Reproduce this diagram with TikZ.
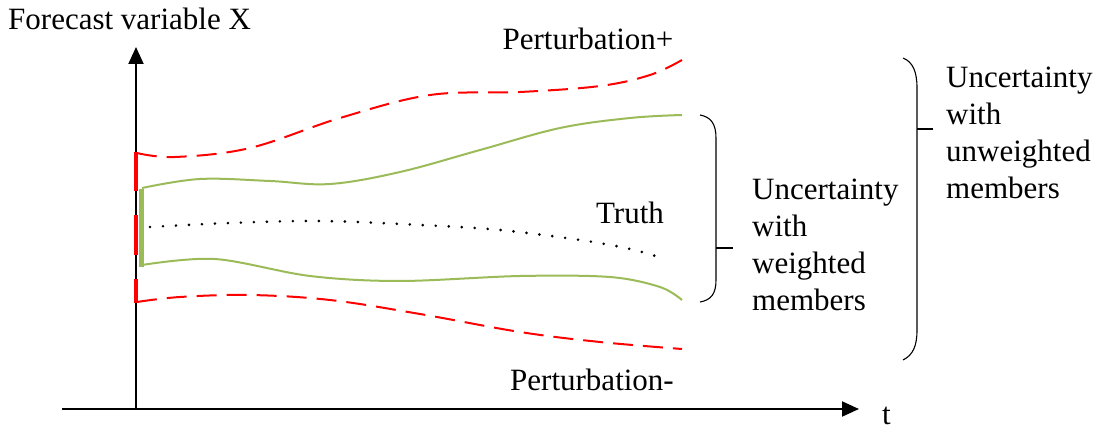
\documentclass[tikz,border=0pt]{standalone}
\usepackage{fontspec}
\setmainfont{Liberation Serif}
\usetikzlibrary{arrows.meta}
\definecolor{ogreen}{HTML}{9BBB59}
\begin{document}
\begin{tikzpicture}[x=1pt,y=-1pt,
  lbl/.style={font=\fontsize{31}{37}\selectfont, inner sep=0pt},
  axis/.style={line width=2pt, -{Triangle[length=17pt,width=15pt]}},
  pert/.style={red, line width=2pt, dash pattern=on 20pt off 10pt},
  wmem/.style={ogreen, line width=2pt},
  truth/.style={line width=2.9pt, line cap=round, dash pattern=on 0pt off 13pt},
  brace/.style={line width=1.1pt}]
\useasboundingbox (0,0) rectangle (1103,430);
% axes
\coordinate (ybot) at (136,409);
\coordinate (ytop) at (136,47);
\coordinate (xl) at (62,409);
\coordinate (xr) at (859,409);
\draw[axis] (ybot) -- (ytop);
\draw[axis] (xl) -- (xr);
\node[lbl, anchor=base west] (tl) at (882,424) {t};
\node[lbl, anchor=base west] (yl) at (8,30) {Forecast variable X};
% curves
\draw[pert] plot[smooth, tension=0.6] coordinates {(137,153) (175,157) (250,148) (340,118) (430,95) (520,92) (600,86) (650,75) (682,60)};
\draw[pert] plot[smooth, tension=0.6] coordinates {(137,302) (180,297) (250,295) (330,300) (420,314) (520,332) (600,342) (682,349)};
\draw[wmem] plot[smooth, tension=0.6] coordinates {(142,188) (200,179) (270,181) (330,184) (400,172) (480,150) (560,128) (630,118) (682,115)};
\draw[wmem] plot[smooth, tension=0.55] coordinates {(142,265) (215,259) (310,276) (400,281) (520,276) (610,277) (660,287) (682,300)};
\draw[truth] plot[smooth, tension=0.6] coordinates {(150,227) (230,223) (320,221) (420,225) (500,230) (580,240) (630,249) (665,259)};
% thick marks on the axis
\draw[red, line width=4.5pt] (136,152) -- (136,191);
\draw[red, line width=4.5pt] (136,215) -- (136,255);
\draw[red, line width=4.5pt] (136,279) -- (136,303);
\draw[ogreen, line width=5pt] (141,189) -- (141,267);
% labels
\node[lbl, anchor=base] (pp) at (588,50) {Perturbation+};
\node[lbl, anchor=base] (pm) at (592,390) {Perturbation-};
\node[lbl, anchor=base] (tr) at (630,224) {Truth};
% inner brace
\draw[brace] (700,115) .. controls (711,117) and (716,124) .. (716,138) -- (716,280) .. controls (716,294) and (711,300) .. (700,302);
\coordinate (ib) at (716,248);
\coordinate (ibt) at (733,248);
\draw[brace] (ib) -- (ibt);
\node[lbl, anchor=north west, align=left] (wl) at (752,179) {Uncertainty\\with\\weighted\\members};
% outer brace
\draw[brace] (903,58) .. controls (913,62) and (917,72) .. (917,88) -- (917,330) .. controls (917,346) and (913,355) .. (903,360);
\coordinate (ob) at (917,129);
\coordinate (obt) at (933,129);
\draw[brace] (ob) -- (obt);
\node[lbl, anchor=north west, align=left] (ul) at (946,67) {Uncertainty\\with\\unweighted\\members};
\end{tikzpicture}
\end{document}
